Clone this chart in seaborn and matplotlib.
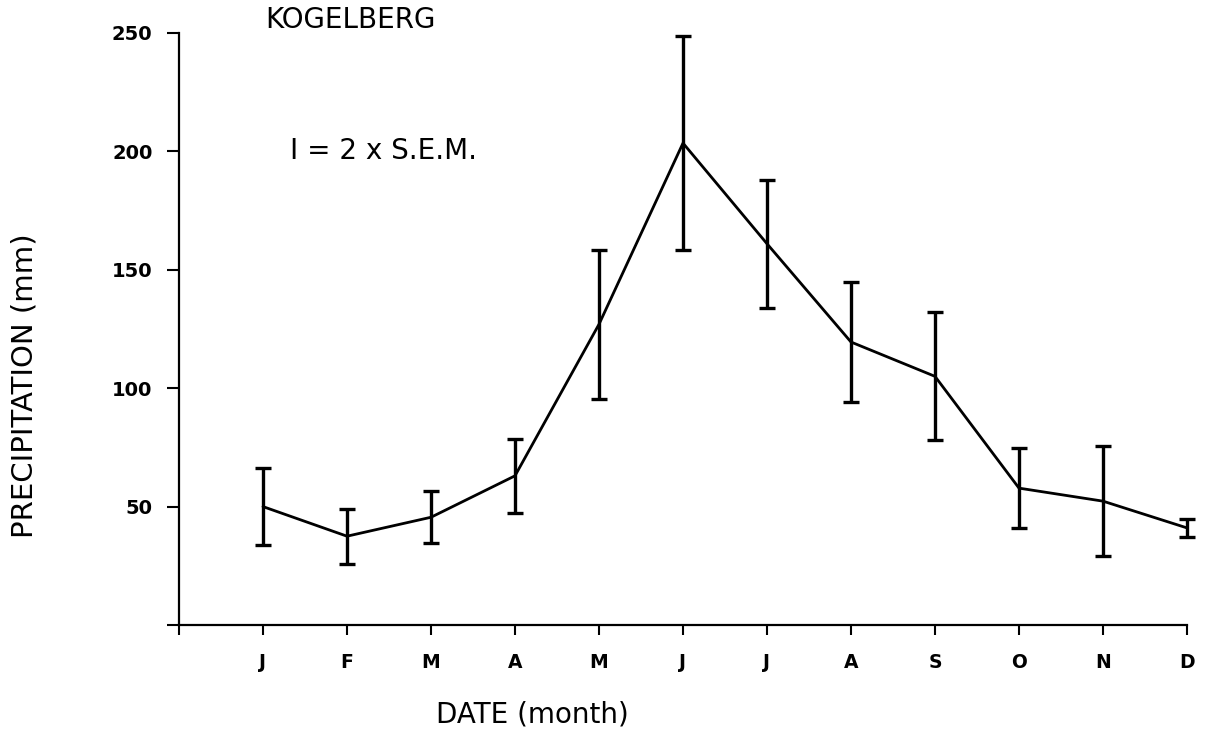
import matplotlib
matplotlib.use('Agg')
import matplotlib.pyplot as plt
import seaborn as sns
import pandas as pd

# Data
months = ['J', 'F', 'M', 'A', 'M', 'J', 'J', 'A', 'S', 'O', 'N', 'D']
month_index = list(range(1, 13))
precip = [50, 37.5, 45.5, 63, 127, 203.5, 161, 119.5, 105, 57.8, 52.3, 41]
sem2 = [16.4, 11.6, 10.9, 15.5, 31.4, 45.1, 27.1, 25.3, 27.0, 16.8, 23.1, 3.7]
yticks = [0, 50, 100, 150, 200, 250]
ytick_labels = ['', '50', '100', '150', '200', '250']

sns.set_style('white')
plt.rcParams['font.family'] = ['DejaVu Sans']
plt.rcParams['text.color'] = 'black'
plt.rcParams['axes.labelcolor'] = 'black'

df = pd.DataFrame({'month': month_index, 'precip': precip, 'err': sem2})

fig = plt.figure(figsize=(12.09, 7.35), dpi=100)
ax = fig.add_axes([179 / 1209, 1 - 625 / 735, 1008 / 1209, 592 / 735])

sns.lineplot(data=df, x='month', y='precip', color='black', linewidth=2, ax=ax)
ax.errorbar(df['month'], df['precip'], yerr=df['err'], fmt='none', ecolor='black',
            elinewidth=2.4, capsize=5.5, capthick=2.4, clip_on=False)

ax.set_xlim(0, 12)
ax.set_ylim(0, 250)
ax.set_xticks(range(13))
ax.set_xticklabels([''] + months, fontweight='bold')
ax.set_yticks(yticks)
ax.set_yticklabels(ytick_labels, fontweight='bold')

sns.despine(ax=ax)
for s in ['left', 'bottom']:
    ax.spines[s].set_linewidth(1.6)
    ax.spines[s].set_color('black')

ax.tick_params(axis='y', direction='out', length=9, width=1.5, pad=10, labelsize=14, colors='black')
ax.tick_params(axis='x', direction='out', length=7, width=1.5, pad=13, labelsize=13.5, colors='black')
ax.tick_params(left=True, bottom=True)

ax.set_ylabel('PRECIPITATION (mm)', fontsize=21, va='center', color='black')
ax.yaxis.set_label_coords(-0.153, 0.405)
ax.set_xlabel('DATE (month)', fontsize=20, va='center', color='black')
ax.xaxis.set_label_coords(0.351, -0.152)

ax.text(2.04, 255.5, 'KOGELBERG', fontsize=20, ha='center', va='center',
        color='black', clip_on=False)
ax.text(2.44, 200, 'I = 2 x S.E.M.', fontsize=20, ha='center', va='center', color='black')

fig.savefig('out.png', dpi=100)
